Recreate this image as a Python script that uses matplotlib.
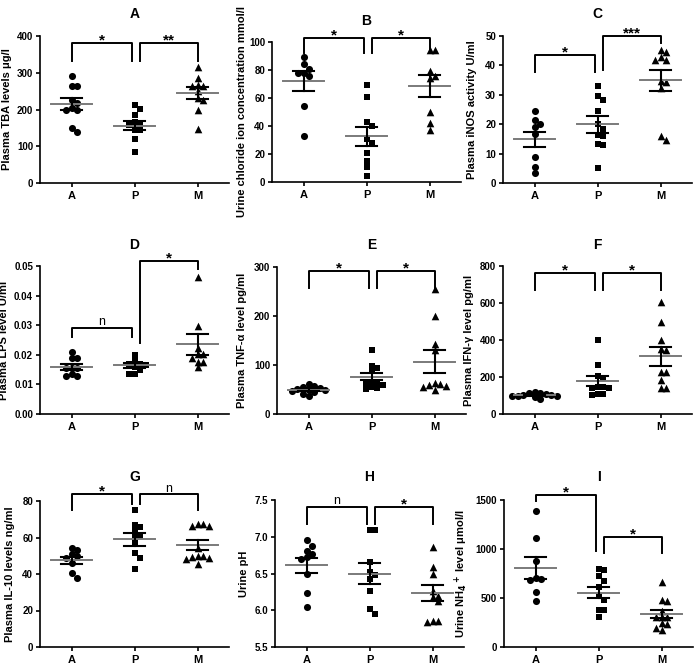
import numpy as np
import matplotlib
matplotlib.use('Agg')
import matplotlib.pyplot as plt
from matplotlib.ticker import FormatStrFormatter

plt.rcParams['font.family'] = ['Liberation Sans Narrow', 'Liberation Sans', 'DejaVu Sans']
plt.rcParams['font.weight'] = 'bold'
plt.rcParams['mathtext.default'] = 'bf'

groups = ['A', 'P', 'M']
markers = ['o', 's', '^']
msizes = [26, 24, 30]

# A - plasma TBA
tba_a = [291, 264, 264, 225, 218, 205, 200, 198, 150, 139]
tba_p = [211, 201, 185, 165, 159, 159, 145, 144, 121, 85]
tba_m = [315, 285, 266, 264, 264, 251, 230, 227, 198, 146]
tba_mean = [215, 156, 245]
tba_sem = [15, 12, 16]

# B - urine chloride
cl_a = [89, 84, 81, 78, 78, 76, 54, 33]
cl_p = [69, 61, 43, 40, 31, 28, 21, 15, 11, 4]
cl_m = [94, 94, 79, 76, 74, 50, 42, 37]
cl_mean = [72, 32.5, 68.5]
cl_sem = [7, 6.5, 8]

# C - plasma iNOS
nos_a = [24.4, 21.4, 20, 19, 16.5, 8.9, 5.5, 3.5]
nos_p = [33, 29.5, 28.2, 24.4, 20.2, 18.5, 16.2, 16, 13.4, 12.8, 5.1]
nos_m = [45.2, 44.7, 43, 42, 41.8, 34.7, 34.4, 32.2, 16, 14.5]
nos_mean = [14.8, 19.9, 34.9]
nos_sem = [2.5, 2.8, 3.6]

# D - plasma LPS
lps_a = [0.021, 0.019, 0.019, 0.0155, 0.0155, 0.0155, 0.0135, 0.0128, 0.0128]
lps_p = [0.020, 0.018, 0.017, 0.017, 0.0165, 0.016, 0.015, 0.0135, 0.0135]
lps_m = [0.0462, 0.0298, 0.0222, 0.0202, 0.0202, 0.019, 0.0177, 0.0177, 0.0158]
lps_mean = [0.0158, 0.0164, 0.0235]
lps_sem = [0.0011, 0.0008, 0.0036]

# E - plasma TNF-a
tnf_a = [62, 57, 55, 53, 52, 50, 48, 47, 44, 40, 36]
tnf_p = [131, 98, 93, 87, 66, 64, 64, 60, 55, 53, 52]
tnf_m = [256, 199, 143, 130, 64, 62, 59, 58, 55, 48]
tnf_mean = [50, 76, 107]
tnf_sem = [2.5, 7, 23]

# F - plasma IFN-y
ifn_a = [120, 115, 112, 108, 105, 102, 100, 98, 95, 90, 82]
ifn_p = [398, 266, 203, 197, 148, 148, 139, 139, 107, 107, 103]
ifn_m = [607, 499, 400, 350, 345, 229, 229, 184, 139, 139]
ifn_mean = [103, 180, 312]
ifn_sem = [4, 27, 50]

# G - plasma IL-10
il_a = [54.4, 53, 50.8, 49.9, 49, 46.2, 40.7, 38]
il_p = [75, 66.8, 65.7, 63.5, 60.8, 60.3, 57.2, 51.7, 49, 43]
il_m = [67.2, 67.2, 66.3, 66.3, 54, 49.9, 49.9, 49.3, 49, 48, 45.7]
il_mean = [47.5, 59, 56]
il_sem = [2, 3.5, 2.7]

# H - urine pH
ph_a = [6.95, 6.88, 6.80, 6.77, 6.72, 6.70, 6.50, 6.24, 6.05]
ph_p = [7.09, 7.09, 6.65, 6.52, 6.48, 6.42, 6.26, 6.02, 5.95]
ph_m = [6.855, 6.59, 6.5, 6.26, 6.2, 6.18, 6.12, 5.86, 5.855, 5.84]
ph_mean = [6.61, 6.5, 6.23]
ph_sem = [0.1, 0.14, 0.11]

# I - urine NH4+
nh_a = [1390, 1110, 880, 700, 690, 680, 560, 470]
nh_p = [795, 785, 725, 675, 610, 520, 480, 375, 375, 310]
nh_m = [665, 477, 470, 370, 307, 307, 307, 242, 235, 198, 174]
nh_mean = [805, 556, 337]
nh_sem = [110, 58, 45]

W, H = 697, 666
fig = plt.figure(figsize=(W / 100, H / 100), dpi=100)

# title, ylabel, data, mean, sem, ylim, ticks, fmt, brackets, (left, top, bottom px), title y px, label offset px
panels = [
    ('A', 'Plasma TBA levels \u03bcg/l', (tba_a, tba_p, tba_m), tba_mean, tba_sem,
     (0, 400), np.arange(0, 401, 100), '%d',
     [(0, 1, 381, 333, 333, '*'), (1, 2, 381, 333, 333, '**')], (40, 36, 183), 14, 28),
    ('B', 'Urine chloride ion concentration mmol/l', (cl_a, cl_p, cl_m), cl_mean, cl_sem,
     (0, 100), np.arange(0, 101, 20), '%d',
     [(0, 1, 103, 92, 92, '*'), (1, 2, 103, 92, 92, '*')], (272, 42, 182), 21, 25),
    ('C', 'Plasma iNOS activity U/ml', (nos_a, nos_p, nos_m), nos_mean, nos_sem,
     (0, 50), np.arange(0, 51, 10), '%d',
     [(0, 1, 43.5, 37.8, 37.8, '*'), (1, 2, 50, 38.6, 47.5, '***')], (503, 36, 183), 14, 26),
    ('D', 'Plasma LPS level U/ml', (lps_a, lps_p, lps_m), lps_mean, lps_sem,
     (0, 0.05), np.arange(0, 0.051, 0.01), '%.2f',
     [(0, 1, 0.029, 0.026, 0.026, 'n'), (1, 2, 0.0517, 0.0239, 0.049, '*')], (40, 266, 414), 245, 31),
    ('E', 'Plasma TNF-\u03b1 level pg/ml', (tnf_a, tnf_p, tnf_m), tnf_mean, tnf_sem,
     (0, 300), np.arange(0, 301, 100), '%d',
     [(0, 1, 292, 258, 258, '*'), (1, 2, 292, 258, 258, '*')], (277, 267, 414), 245, 30),
    ('F', 'Plasma IFN-\u03b3 level pg/ml', (ifn_a, ifn_p, ifn_m), ifn_mean, ifn_sem,
     (0, 800), np.arange(0, 801, 200), '%d',
     [(0, 1, 760, 668, 668, '*'), (1, 2, 760, 668, 668, '*')], (503, 266, 414), 245, 29),
    ('G', 'Plasma IL-10 levels ng/ml', (il_a, il_p, il_m), il_mean, il_sem,
     (0, 80), np.arange(0, 81, 20), '%d',
     [(0, 1, 83.6, 74.9, 78.5, '*'), (1, 2, 83.6, 78.5, 74.9, 'n')], (40, 501, 647), 477, 25),
    ('H', 'Urine pH', (ph_a, ph_p, ph_m), ph_mean, ph_sem,
     (5.5, 7.5), np.arange(5.5, 7.51, 0.5), '%.1f',
     [(0, 1, 7.41, 7.17, 7.17, 'n'), (1, 2, 7.41, 7.17, 7.17, '*')], (275, 500, 647), 477, 26),
    ('I', 'Urine NH$_4$$^+$ level \u03bcmol/l', (nh_a, nh_p, nh_m), nh_mean, nh_sem,
     (0, 1500), np.arange(0, 1501, 500), '%d',
     [(0, 1, 1555, 1493, 982, '*'), (1, 2, 1118, 955, 955, '*')], (504, 500, 647), 477, 34),
]

XW = 189  # axes width in px, three categories


def swarm(vals, ypx, diam):
    # simple beeswarm: put each point at the nearest free slot, points may touch
    order = np.argsort(vals)[::-1]
    placed = []
    offs = np.zeros(len(vals))
    for i in order:
        y = vals[i] * ypx
        for k in [0, 1, -1, 2, -2, 3, -3, 4, -4, 5, -5]:
            x = k * diam * 0.8
            if all((x - px) ** 2 + (y - py) ** 2 >= (diam * 0.75) ** 2 for px, py in placed):
                break
        placed.append((x, y))
        offs[i] = x
    return offs


for (title, ylabel, data, means, sems, ylim, ticks, fmt, brackets, rect, ty, lab) in panels:
    left, top, bottom = rect
    hpx = bottom - top
    ax = fig.add_axes([left / W, 1 - bottom / H, XW / W, hpx / H])
    ax.set_xlim(-0.5, 2.5)
    ax.set_ylim(*ylim)
    xpx = XW / 3.0
    ypx = hpx / (ylim[1] - ylim[0])

    for g in range(3):
        vals = np.array(data[g], dtype=float)
        offs = swarm(vals, ypx, 7.0) / xpx
        ax.scatter(g + offs, vals, marker=markers[g], s=msizes[g], color='black',
                   linewidths=0, zorder=2, clip_on=False)
        m, s = means[g], sems[g]
        ax.plot([g - 0.33, g + 0.33], [m, m], color='#7a7a7a', lw=1.4, zorder=3)
        ax.plot([g, g], [m - s, m + s], color='black', lw=1.5, zorder=3)
        for v in (m - s, m + s):
            ax.plot([g - 0.17, g + 0.17], [v, v], color='black', lw=1.5, zorder=3)

    for (i, j, yt, l1, l2, lbl) in brackets:
        x1 = i + (0.08 if i == 1 else 0)
        x2 = j - (0.04 if j == 1 else 0)
        ax.plot([x1, x1, x2, x2], [l1, yt, yt, l2], color='black', lw=1.4, clip_on=False)
        if lbl == 'n':
            ax.annotate(lbl, ((x1 + x2) / 2, yt), xytext=(0, 2), textcoords='offset points',
                        ha='center', va='baseline', fontsize=9, fontweight='normal',
                        annotation_clip=False)
        else:
            ax.annotate(lbl, ((x1 + x2) / 2, yt), xytext=(0, -1), textcoords='offset points',
                        ha='center', va='baseline', fontsize=11, annotation_clip=False)

    ax.text(1, 1 + (top - ty) / hpx, title, transform=ax.get_xaxis_transform(),
            ha='center', va='center', fontsize=10, fontweight='bold')

    ax.set_xticks(range(3))
    ax.set_xticklabels(groups)
    ax.set_yticks(ticks)
    ax.yaxis.set_major_formatter(FormatStrFormatter(fmt))
    ax.tick_params(axis='both', direction='out', length=3, width=1.2, labelsize=7, pad=2)
    ax.tick_params(axis='x', labelsize=8, pad=3)
    for t in ax.get_xticklabels() + ax.get_yticklabels():
        t.set_fontweight('bold')
    ax.spines['top'].set_visible(False)
    ax.spines['right'].set_visible(False)
    ax.spines['left'].set_linewidth(1.2)
    ax.spines['bottom'].set_linewidth(1.2)
    ax.set_ylabel(ylabel, fontsize=8, fontweight='bold')
    ax.yaxis.set_label_coords(-lab / XW, 0.5)
    ax.patch.set_alpha(0)

fig.savefig('out.png', dpi=100)
plt.close(fig)
